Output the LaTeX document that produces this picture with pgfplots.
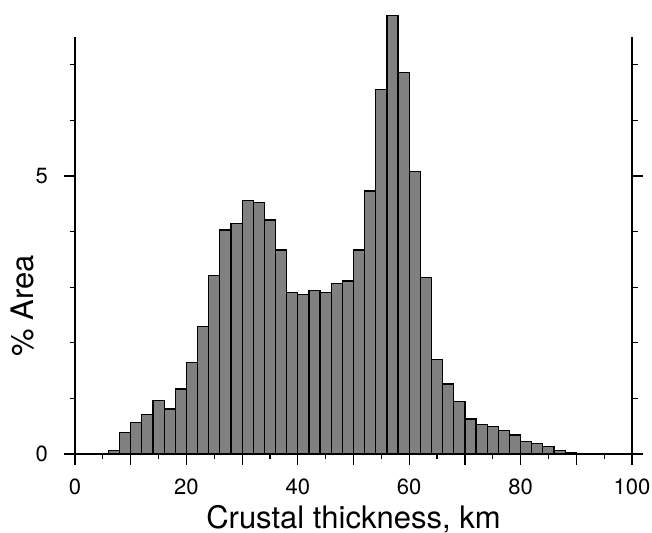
\documentclass[border=0pt]{standalone}
\usepackage{fontspec}
\setmainfont{TeX Gyre Heros}
\usepackage{pgfplots}
\pgfplotsset{compat=1.18}
\definecolor{bargray}{RGB}{128,128,128}

\begin{document}
\begin{tikzpicture}
\begin{axis}[
    at={(0,0)}, anchor=south west,
    scale only axis,
    width=278.5pt, height=208.5pt,
    xmin=0, xmax=100, ymin=0, ymax=7.5,
    clip=false,
    axis line style={draw=none},
    tick align=outside,
    xtick pos=bottom, ytick pos=both,
    xtick={0,20,...,100},
    minor xtick={5,15,...,95},
    extra x ticks={10,30,50,70,90},
    extra x tick labels={},
    extra x tick style={tick align=outside, xtick pos=bottom},
    ytick={0,5},
    minor ytick={1,2,3,4,6,7},
    major tick length=5.5pt, minor tick length=2.75pt,
    tick style={black, line width=0.6pt},
    /pgf/number format/assume math mode=true,
    ticklabel style={font=\fontsize{11}{13}\selectfont},
    xticklabel style={yshift=-3.5pt},
    yticklabel style={xshift=-4.5pt},
    xlabel={Crustal thickness, km},
    ylabel={\% Area},
    label style={font=\fontsize{15.5}{18}\selectfont},
    xlabel style={at={(axis description cs:0.5,-0.1787)}, anchor=base, inner sep=0pt},
    ylabel style={at={(axis description cs:-0.0934,0.355)}, anchor=center},
]
% histogram, 2 km bins, left edges
\addplot[ybar interval, fill=bargray, draw=black, line width=0.6pt] coordinates {
(6,0.06) (8,0.39) (10,0.56) (12,0.71) (14,0.96) (16,0.81) (18,1.17)
(20,1.65) (22,2.30) (24,3.21) (26,4.03) (28,4.15) (30,4.56) (32,4.52)
(34,4.21) (36,3.67) (38,2.90) (40,2.87) (42,2.94) (44,2.91) (46,3.07)
(48,3.11) (50,3.67) (52,4.73) (54,6.55) (56,7.89) (58,6.86) (60,5.08)
(62,3.17) (64,1.70) (66,1.26) (68,0.95) (70,0.63) (72,0.53) (74,0.50)
(76,0.42) (78,0.34) (80,0.22) (82,0.19) (84,0.13) (86,0.06) (88,0.03)
(90,0.015) (92,0.01) (94,0.01) (96,0.01) (98,0.01) (100,0)
};
\draw[line width=1.3pt] (rel axis cs:0,0) -- (rel axis cs:0,1);
\draw[line width=1.3pt] (rel axis cs:1,0) -- (rel axis cs:1,1);
\draw[line width=1pt] (rel axis cs:0,0) -- (rel axis cs:1,0);
\end{axis}
\pgfresetboundingbox
\useasboundingbox (-37.5pt,-39.5pt) rectangle (288.5pt,227pt);
\end{tikzpicture}
\end{document}
